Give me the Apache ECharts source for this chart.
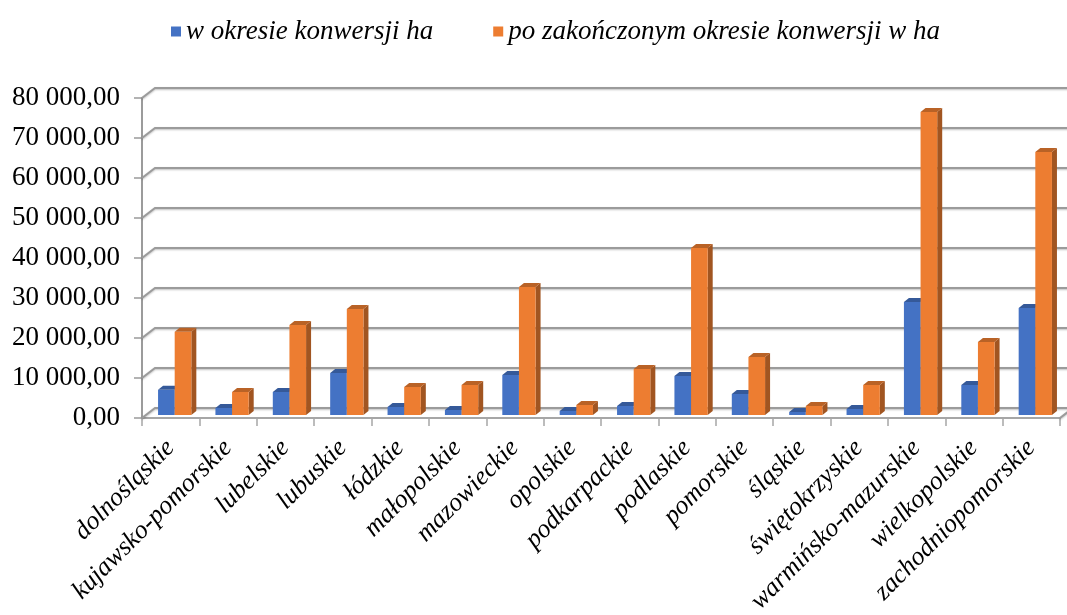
<!DOCTYPE html>
<html>
<head>
<meta charset="utf-8">
<script src="https://cdn.jsdelivr.net/npm/echarts@6/dist/echarts.min.js"></script>
<style>
  html, body { margin: 0; padding: 0; background: #fff; }
  #main { width: 1067px; height: 615px; }
</style>
</head>
<body>
<div id="main"></div>
<script>
const regions = ['dolnośląskie', 'kujawsko-pomorskie', 'lubelskie', 'lubuskie', 'łódzkie',
    'małopolskie', 'mazowieckie', 'opolskie', 'podkarpackie', 'podlaskie', 'pomorskie',
    'śląskie', 'świętokrzyskie', 'warmińsko-mazurskie', 'wielkopolskie', 'zachodniopomorskie'];
const inConversion = [6300, 1750, 5750, 10500, 2000, 1250, 10000, 1000,
    2250, 9750, 5250, 750, 1500, 28250, 7500, 26750];
const afterConversion = [20800, 5750, 22500, 26500, 7000, 7500, 32000, 2500,
    11500, 41750, 14500, 2250, 7500, 75750, 18250, 65750];
const seriesNames = ['w okresie konwersji ha', 'po zakończonym okresie konwersji w ha'];
const yTicks = [0, 10000, 20000, 30000, 40000, 50000, 60000, 70000, 80000];

const chart = echarts.init(document.getElementById('main'), null, { renderer: 'canvas' });

// depth of the fake 3d box (back wall offset) and of the bars
const WALL_DX = 13, WALL_DY = 10;
const BAR_DX = 4, BAR_DY = 3;

function shade(hex, k) {
    const n = parseInt(hex.slice(1), 16);
    const r = Math.round(((n >> 16) & 255) * k);
    const g = Math.round(((n >> 8) & 255) * k);
    const b = Math.round((n & 255) * k);
    return 'rgb(' + r + ',' + g + ',' + b + ')';
}

// bar = front face + top face + right side face
function makeRender(idx) {
    return function (params, api) {
        const top = api.coord([api.value(0), api.value(1)]);
        const base = api.coord([api.value(0), 0]);
        const band = api.size([1, 0])[0];
        const w = band * 0.29;
        const dx = 5, dy = 4;
        const x0 = (idx === 0 ? top[0] - w : top[0]) + BAR_DX;
        const yT = top[1] - BAR_DY, yB = base[1] - BAR_DY;
        const color = api.visual('color');
        return {
            type: 'group',
            children: [
                {
                    type: 'polygon',
                    shape: { points: [[x0 + w, yT], [x0 + w + dx, yT - dy], [x0 + w + dx, yB - dy], [x0 + w, yB]] },
                    style: { fill: shade(color, 0.68) }
                },
                {
                    type: 'rect',
                    shape: { x: x0, y: yT, width: w, height: yB - yT },
                    style: { fill: color }
                },
                {
                    type: 'polygon',
                    shape: { points: [[x0, yT], [x0 + w, yT], [x0 + w + dx, yT - dy], [x0 + dx, yT - dy]] },
                    style: { fill: shade(color, 0.78) }
                }
            ]
        };
    };
}

// back wall gridlines with the little diagonal from the front axis
function renderWall(params, api) {
    const cs = params.coordSys;
    const y = api.coord([0, api.value(1)])[1];
    const x = cs.x;
    const pts = [[x, y], [x + WALL_DX, y - WALL_DY], [x + cs.width + WALL_DX, y - WALL_DY]];
    if (api.value(1) === 0) {
        pts.push([x + cs.width, y]);
    }
    return {
        type: 'polyline',
        shape: { points: pts },
        style: {
            stroke: '#9b9b9b',
            lineWidth: 2,
            fill: null,
            shadowBlur: 2,
            shadowColor: 'rgba(0,0,0,0.25)',
            shadowOffsetY: 1
        }
    };
}

function fmt(v) {
    const s = String(Math.round(v)).replace(/\B(?=(\d{3})+(?!\d))/g, ' ');
    return s + ',00';
}

const option = {
    backgroundColor: '#ffffff',
    textStyle: { fontFamily: 'Liberation Serif' },
    legend: {
        top: 13,
        left: 166,
        itemGap: 60,
        itemWidth: 10,
        itemHeight: 10,
        icon: 'rect',
        textStyle: { fontSize: 27, fontStyle: 'italic', color: '#000', fontFamily: 'Liberation Serif' },
        data: seriesNames
    },
    grid: {
        left: 142,
        right: 7,
        top: 98,
        bottom: 197,
        outerBoundsMode: 'none'
    },
    xAxis: {
        type: 'category',
        data: regions,
        axisLine: { lineStyle: { color: '#a6a6a6', width: 2 } },
        axisTick: { show: true, length: 8, lineStyle: { color: '#a6a6a6', width: 1.5 } },
        axisLabel: {
            rotate: 45,
            interval: 0,
            margin: 26,
            fontSize: 26,
            fontStyle: 'italic',
            color: '#000',
            fontFamily: 'Liberation Serif'
        }
    },
    yAxis: {
        type: 'value',
        min: 0,
        max: 80000,
        interval: 10000,
        axisLine: { show: true, lineStyle: { color: '#9b9b9b', width: 2 } },
        axisTick: { show: true, length: 8, lineStyle: { color: '#9b9b9b', width: 1.5 } },
        axisLabel: {
            formatter: fmt,
            fontSize: 27,
            color: '#000',
            margin: 22,
            fontFamily: 'Liberation Serif'
        },
        splitLine: { show: false }
    },
    series: [
        {
            name: 'wall',
            type: 'custom',
            silent: true,
            z: 1,
            renderItem: renderWall,
            encode: { x: 0, y: 1 },
            data: yTicks.map(v => [0, v])
        },
        {
            name: seriesNames[0],
            type: 'custom',
            z: 2,
            itemStyle: { color: '#4472C4' },
            renderItem: makeRender(0),
            encode: { x: 0, y: 1 },
            data: inConversion.map((v, i) => [i, v])
        },
        {
            name: seriesNames[1],
            type: 'custom',
            z: 3,
            itemStyle: { color: '#ED7D31' },
            renderItem: makeRender(1),
            encode: { x: 0, y: 1 },
            data: afterConversion.map((v, i) => [i, v])
        }
    ]
};

chart.setOption(option);
</script>
</body>
</html>
